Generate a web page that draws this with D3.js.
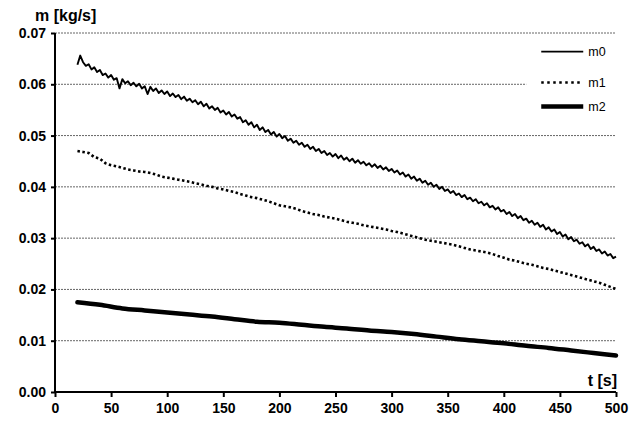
<!DOCTYPE html>
<html>
<head>
<meta charset="utf-8">
<script src="https://cdn.jsdelivr.net/npm/d3@7"></script>
<style>
  body { margin: 0; background: #fff; }
  svg text { font-family: "Liberation Sans", Arial, sans-serif; }
</style>
</head>
<body>
<div id="chart"></div>
<script>
// m0: raw noisy signal [t, kg/s]
const m0 = [
  [20, .0638], [22.5, .0656], [25, .0643], [27.5, .0636], [30, .0639], [32.5, .0629], [35, .0633],
  [37.5, .0624], [40, .0628], [42.5, .0618], [45, .0621], [47.5, .0613], [50, .0618], [52.5, .0609],
  [55, .0612], [57.5, .0592], [60, .0610], [62.5, .0602], [65, .0606], [67.5, .0598], [70, .0603],
  [72.5, .0596], [75, .0601], [77.5, .0592], [80, .0596], [82.5, .0581], [85, .0595], [87.5, .0587],
  [90, .0592], [92.5, .0583], [95, .0588], [97.5, .0581], [100, .0586], [102.5, .0577], [105, .0582],
  [107.5, .0575], [110, .0579], [112.5, .0571], [115, .0576], [117.5, .0568], [120, .0572], [122.5, .0565],
  [125, .0569], [127.5, .0561], [130, .0566], [132.5, .0557], [135, .0562], [137.5, .0553], [140, .0557],
  [142.5, .0550], [145, .0554], [147.5, .0545], [150, .0549], [152.5, .0541], [155, .0546], [157.5, .0537],
  [160, .0541], [162.5, .0533], [165, .0536], [167.5, .0526], [170, .0530], [172.5, .0521], [175, .0526],
  [177.5, .0516], [180, .0521], [182.5, .0511], [185, .0516], [187.5, .0507], [190, .0511], [192.5, .0502],
  [195, .0507], [197.5, .0498], [200, .0503], [202.5, .0495], [205, .0499], [207.5, .0490], [210, .0494],
  [212.5, .0486], [215, .0490], [217.5, .0482], [220, .0486], [222.5, .0478], [225, .0482], [227.5, .0474],
  [230, .0478], [232.5, .0470], [235, .0474], [237.5, .0466], [240, .0470], [242.5, .0462], [245, .0466],
  [247.5, .0459], [250, .0464], [252.5, .0456], [255, .0461], [257.5, .0453], [260, .0457], [262.5, .0450],
  [265, .0455], [267.5, .0447], [270, .0452], [272.5, .0445], [275, .0449], [277.5, .0442], [280, .0446],
  [282.5, .0439], [285, .0444], [287.5, .0437], [290, .0441], [292.5, .0434], [295, .0438], [297.5, .0431],
  [300, .0435], [302.5, .0428], [305, .0432], [307.5, .0424], [310, .0428], [312.5, .0420], [315, .0424],
  [317.5, .0416], [320, .0420], [322.5, .0412], [325, .0416], [327.5, .0408], [330, .0412], [332.5, .0404],
  [335, .0408], [337.5, .0400], [340, .0404], [342.5, .0396], [345, .0400], [347.5, .0392], [350, .0395],
  [352.5, .0388], [355, .0392], [357.5, .0384], [360, .0387], [362.5, .0380], [365, .0384], [367.5, .0376],
  [370, .0379], [372.5, .0372], [375, .0376], [377.5, .0368], [380, .0371], [382.5, .0364], [385, .0368],
  [387.5, .0360], [390, .0363], [392.5, .0356], [395, .0360], [397.5, .0352], [400, .0355], [402.5, .0347],
  [405, .0351], [407.5, .0343], [410, .0347], [412.5, .0339], [415, .0343], [417.5, .0335], [420, .0338],
  [422.5, .0330], [425, .0334], [427.5, .0326], [430, .0330], [432.5, .0322], [435, .0326], [437.5, .0317],
  [440, .0321], [442.5, .0313], [445, .0317], [447.5, .0308], [450, .0312], [452.5, .0303], [455, .0307],
  [457.5, .0298], [460, .0302], [462.5, .0294], [465, .0297], [467.5, .0289], [470, .0292], [472.5, .0284],
  [475, .0288], [477.5, .0279], [480, .0283], [482.5, .0275], [485, .0278], [487.5, .0270], [490, .0274],
  [492.5, .0266], [495, .0269], [497.5, .0261], [500, .0264]
];

const m1 = [
  [20, .0470], [25, .0468], [30, .0466], [35, .0458], [40, .0455], [45, .0446], [50, .0442],
  [55, .0440], [60, .0437], [65, .0434], [70, .0432], [75, .0430], [80, .0429], [85, .0427],
  [90, .0424], [95, .0420], [100, .0418], [105, .0416], [110, .0414], [115, .0412], [120, .0410],
  [125, .0407], [130, .0405], [135, .0402], [140, .0400], [145, .0397], [150, .0395], [155, .0392],
  [160, .0390], [165, .0386], [170, .0383], [175, .0380], [180, .0378], [185, .0375], [190, .0372],
  [195, .0368], [200, .0364], [205, .0362], [210, .0360], [215, .0357], [220, .0353], [225, .0350],
  [230, .0347], [235, .0345], [240, .0342], [245, .0340], [250, .0338], [255, .0335], [260, .0332],
  [265, .0330], [270, .0328], [275, .0325], [280, .0323], [285, .0321], [290, .0319], [295, .0317],
  [300, .0314], [305, .0312], [310, .0309], [315, .0306], [320, .0303], [325, .0300], [330, .0297],
  [335, .0295], [340, .0293], [345, .0291], [350, .0289], [355, .0287], [360, .0284], [365, .0281],
  [370, .0278], [375, .0276], [380, .0274], [385, .0272], [390, .0269], [395, .0265], [400, .0262],
  [405, .0258], [410, .0256], [415, .0253], [420, .0250], [425, .0248], [430, .0245], [435, .0242],
  [440, .0240], [445, .0237], [450, .0234], [455, .0231], [460, .0228], [465, .0225], [470, .0222],
  [475, .0219], [480, .0216], [485, .0213], [490, .0209], [495, .0205], [500, .0201]
];

const m2 = [
  [20, .0175], [40, .0170], [60, .0163], [80, .0159], [100, .0155], [120, .0151], [140, .0147],
  [160, .0142], [180, .0137], [200, .0135], [220, .0131], [240, .0127], [260, .0124], [280, .0120],
  [300, .0117], [320, .0113], [340, .0108], [360, .0103], [380, .0099], [400, .0095], [420, .0090],
  [440, .0086], [460, .0081], [480, .0076], [500, .0071]
];

const xTicks = [0, 50, 100, 150, 200, 250, 300, 350, 400, 450, 500];
const yTicks = [0, 0.01, 0.02, 0.03, 0.04, 0.05, 0.06, 0.07];
const seriesNames = ["m0", "m1", "m2"];

const W = 632, H = 423;
const margin = { top: 33, right: 16, bottom: 31, left: 55 };
const width = W - margin.left - margin.right;
const height = H - margin.top - margin.bottom;

const svg = d3.select("#chart").append("svg")
  .attr("width", W).attr("height", H);
const g = svg.append("g")
  .attr("transform", `translate(${margin.left},${margin.top})`);

const x = d3.scaleLinear().domain([0, 500]).range([0, width]);
const y = d3.scaleLinear().domain([0, 0.07]).range([height, 0]);

// dashed grid
g.append("g").selectAll("line")
  .data(yTicks.filter(d => d > 0))
  .enter().append("line")
  .attr("x1", 0).attr("x2", width)
  .attr("y1", d => y(d)).attr("y2", d => y(d))
  .attr("stroke", "#666").attr("stroke-width", 1)
  .attr("stroke-dasharray", "2,1");

// legend box (covers grid behind it)
const leg = g.append("g").attr("transform", `translate(${x(420)},${y(0.0695)})`);
leg.append("rect")
  .attr("x", 0).attr("y", 0).attr("width", 105).attr("height", 82)
  .attr("fill", "#fff");

// axes
const xAxis = g.append("g")
  .attr("transform", `translate(0,${height})`)
  .call(d3.axisBottom(x).tickValues(xTicks).tickSize(5).tickPadding(6).tickFormat(d3.format("d")));
const yAxis = g.append("g")
  .call(d3.axisLeft(y).tickValues(yTicks).tickSize(4).tickPadding(5).tickFormat(d3.format(".2f")));

[xAxis, yAxis].forEach(a => {
  a.select(".domain").attr("stroke", "#000").attr("stroke-width", 2);
  a.selectAll(".tick line").attr("stroke", "#000").attr("stroke-width", 2);
  a.selectAll(".tick text")
    .attr("fill", "#000")
    .style("font-size", "14px")
    .style("font-weight", "bold")
    .style("font-family", "'Liberation Sans', Arial, sans-serif");
});
xAxis.select(".domain").attr("d", `M0,0H${width}`);
yAxis.select(".domain").attr("d", `M0,0V${height}`);

const line = d3.line().x(d => x(d[0])).y(d => y(d[1]));

g.append("path").datum(m2)
  .attr("fill", "none").attr("stroke", "#000")
  .attr("stroke-width", 4.5).attr("stroke-linecap", "round")
  .attr("d", line.curve(d3.curveMonotoneX));

g.append("path").datum(m1)
  .attr("fill", "none").attr("stroke", "#000")
  .attr("stroke-width", 2.6).attr("stroke-dasharray", "2.5,2.5")
  .attr("d", line.curve(d3.curveLinear));

g.append("path").datum(m0)
  .attr("fill", "none").attr("stroke", "#000")
  .attr("stroke-width", 1.9).attr("stroke-linejoin", "round")
  .attr("d", line.curve(d3.curveLinear));

// legend entries
const legStyles = [
  { w: 1.8, dash: null },
  { w: 2.6, dash: "2.5,3.5" },
  { w: 4.5, dash: null }
];
const legY = [16, 47, 71];
seriesNames.forEach((name, i) => {
  leg.append("line")
    .attr("x1", 15).attr("x2", 57)
    .attr("y1", legY[i]).attr("y2", legY[i])
    .attr("stroke", "#000").attr("stroke-width", legStyles[i].w)
    .attr("stroke-dasharray", legStyles[i].dash);
  leg.append("text")
    .attr("x", 62).attr("y", legY[i]).attr("dy", "0.35em")
    .style("font-size", "12.5px")
    .text(name);
});

// axis titles
svg.append("text")
  .attr("x", 35).attr("y", 21)
  .style("font-size", "16px").style("font-weight", "bold")
  .text("m [kg/s]");
svg.append("text")
  .attr("x", margin.left + width + 1).attr("y", 386)
  .attr("text-anchor", "end")
  .style("font-size", "16px").style("font-weight", "bold")
  .text("t [s]");
</script>
</body>
</html>
